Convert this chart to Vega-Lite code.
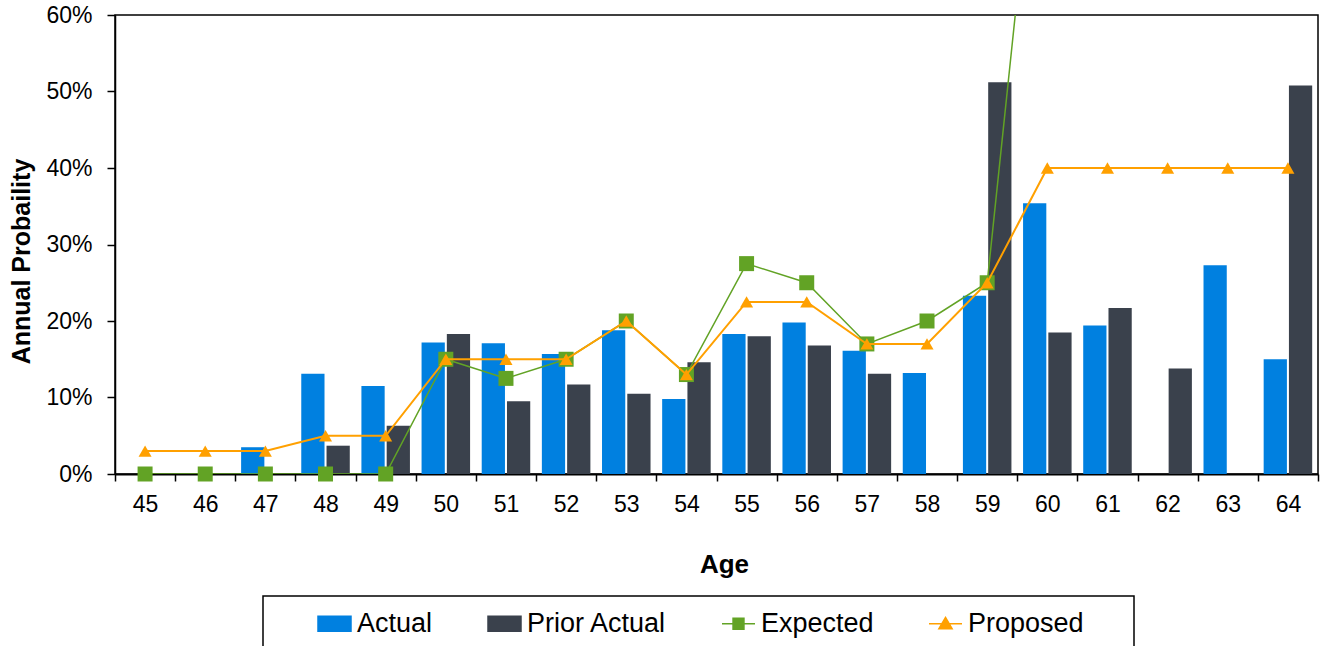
{
  "$schema": "https://vega.github.io/schema/vega-lite/v6.json",
  "width": 1203,
  "height": 459,
  "autosize": {"type": "none"},
  "padding": {"left": 115, "top": 15, "right": 5, "bottom": 172},
  "background": "white",
  "config": {
    "view": {"stroke": "black", "strokeWidth": 1.5},
    "font": "Liberation Sans"
  },
  "data": {
    "values": [
      {"age": 45, "series": "Actual", "value": 0},
      {"age": 46, "series": "Actual", "value": 0},
      {"age": 47, "series": "Actual", "value": 0.035},
      {"age": 48, "series": "Actual", "value": 0.131},
      {"age": 49, "series": "Actual", "value": 0.115},
      {"age": 50, "series": "Actual", "value": 0.172},
      {"age": 51, "series": "Actual", "value": 0.171},
      {"age": 52, "series": "Actual", "value": 0.157},
      {"age": 53, "series": "Actual", "value": 0.188},
      {"age": 54, "series": "Actual", "value": 0.098},
      {"age": 55, "series": "Actual", "value": 0.183},
      {"age": 56, "series": "Actual", "value": 0.198},
      {"age": 57, "series": "Actual", "value": 0.161},
      {"age": 58, "series": "Actual", "value": 0.132},
      {"age": 59, "series": "Actual", "value": 0.233},
      {"age": 60, "series": "Actual", "value": 0.354},
      {"age": 61, "series": "Actual", "value": 0.194},
      {"age": 62, "series": "Actual", "value": 0},
      {"age": 63, "series": "Actual", "value": 0.273},
      {"age": 64, "series": "Actual", "value": 0.150},
      {"age": 45, "series": "Prior Actual", "value": 0},
      {"age": 46, "series": "Prior Actual", "value": 0},
      {"age": 47, "series": "Prior Actual", "value": 0},
      {"age": 48, "series": "Prior Actual", "value": 0.037},
      {"age": 49, "series": "Prior Actual", "value": 0.063},
      {"age": 50, "series": "Prior Actual", "value": 0.183},
      {"age": 51, "series": "Prior Actual", "value": 0.095},
      {"age": 52, "series": "Prior Actual", "value": 0.117},
      {"age": 53, "series": "Prior Actual", "value": 0.105},
      {"age": 54, "series": "Prior Actual", "value": 0.146},
      {"age": 55, "series": "Prior Actual", "value": 0.180},
      {"age": 56, "series": "Prior Actual", "value": 0.168},
      {"age": 57, "series": "Prior Actual", "value": 0.131},
      {"age": 58, "series": "Prior Actual", "value": 0},
      {"age": 59, "series": "Prior Actual", "value": 0.512},
      {"age": 60, "series": "Prior Actual", "value": 0.185},
      {"age": 61, "series": "Prior Actual", "value": 0.217},
      {"age": 62, "series": "Prior Actual", "value": 0.138},
      {"age": 63, "series": "Prior Actual", "value": 0},
      {"age": 64, "series": "Prior Actual", "value": 0.508},
      {"age": 45, "series": "Expected", "value": 0},
      {"age": 46, "series": "Expected", "value": 0},
      {"age": 47, "series": "Expected", "value": 0},
      {"age": 48, "series": "Expected", "value": 0},
      {"age": 49, "series": "Expected", "value": 0},
      {"age": 50, "series": "Expected", "value": 0.15},
      {"age": 51, "series": "Expected", "value": 0.125},
      {"age": 52, "series": "Expected", "value": 0.15},
      {"age": 53, "series": "Expected", "value": 0.20},
      {"age": 54, "series": "Expected", "value": 0.13},
      {"age": 55, "series": "Expected", "value": 0.275},
      {"age": 56, "series": "Expected", "value": 0.25},
      {"age": 57, "series": "Expected", "value": 0.17},
      {"age": 58, "series": "Expected", "value": 0.20},
      {"age": 59, "series": "Expected", "value": 0.25},
      {"age": 60, "series": "Expected", "value": 1.0},
      {"age": 45, "series": "Proposed", "value": 0.03},
      {"age": 46, "series": "Proposed", "value": 0.03},
      {"age": 47, "series": "Proposed", "value": 0.03},
      {"age": 48, "series": "Proposed", "value": 0.05},
      {"age": 49, "series": "Proposed", "value": 0.05},
      {"age": 50, "series": "Proposed", "value": 0.15},
      {"age": 51, "series": "Proposed", "value": 0.15},
      {"age": 52, "series": "Proposed", "value": 0.15},
      {"age": 53, "series": "Proposed", "value": 0.20},
      {"age": 54, "series": "Proposed", "value": 0.13},
      {"age": 55, "series": "Proposed", "value": 0.225},
      {"age": 56, "series": "Proposed", "value": 0.225},
      {"age": 57, "series": "Proposed", "value": 0.17},
      {"age": 58, "series": "Proposed", "value": 0.17},
      {"age": 59, "series": "Proposed", "value": 0.25},
      {"age": 60, "series": "Proposed", "value": 0.40},
      {"age": 61, "series": "Proposed", "value": 0.40},
      {"age": 62, "series": "Proposed", "value": 0.40},
      {"age": 63, "series": "Proposed", "value": 0.40},
      {"age": 64, "series": "Proposed", "value": 0.40}
    ]
  },
  "encoding": {
    "x": {
      "field": "age",
      "type": "ordinal",
      "scale": {"paddingInner": 0, "paddingOuter": 0},
      "axis": {
        "title": "Age",
        "labelAngle": 0,
        "tickBand": "extent",
        "labelFontSize": 23,
        "labelColor": "black",
        "labelPadding": 12,
        "tickSize": 7,
        "tickColor": "black",
        "tickWidth": 1.5,
        "domainColor": "black",
        "domainWidth": 2,
        "titleFontSize": 26,
        "titleFontWeight": "bold",
        "titleColor": "black",
        "titlePadding": 35,
        "titleX": 609
      }
    },
    "y": {
      "field": "value",
      "type": "quantitative",
      "scale": {"domain": [0, 0.6], "nice": false},
      "axis": {
        "title": "Annual  Probaility",
        "format": ".0%",
        "values": [0, 0.1, 0.2, 0.3, 0.4, 0.5, 0.6],
        "grid": false,
        "labelFontSize": 23,
        "labelColor": "black",
        "labelPadding": 15,
        "tickSize": 8,
        "tickColor": "black",
        "tickWidth": 1.5,
        "domainColor": "black",
        "domainWidth": 1.5,
        "titleFontSize": 25,
        "titleFontWeight": "bold",
        "titleColor": "black",
        "titlePadding": 11,
        "titleY": 246
      }
    },
    "color": {
      "field": "series",
      "type": "nominal",
      "scale": {
        "domain": ["Actual", "Prior Actual", "Expected", "Proposed"],
        "range": ["#0080E0", "#3A414C", "#62A325", "#FFA000"]
      },
      "legend": {
        "title": "\u00a0",
        "titleOrient": "left",
        "titleFontSize": 26,
        "titlePadding": 44,
        "orient": "none",
        "legendX": 148,
        "legendY": 581,
        "direction": "horizontal",
        "strokeColor": "black",
        "padding": 10,
        "labelFontSize": 27,
        "labelFont": "Liberation Sans",
        "labelColor": "black",
        "labelOffset": 5,
        "labelLimit": 400,
        "columnPadding": 52,
        "symbolSize": 1089,
        "labelExpr": "datum.label === 'Proposed' ? 'Proposed\u2800\u2800' : datum.label",
        "encode": {
          "legend": {"update": {"strokeWidth": {"value": 1.5}}},
          "symbols": {
            "update": {
              "shape": {"signal": "datum.value === 'Expected' ? 'M-1,0H1M-0.33,-0.33H0.33V0.33H-0.33Z' : datum.value === 'Proposed' ? 'M-1,0H1M0,-0.38L0.4,0.3L-0.4,0.3Z' : 'M-1,-0.4545H1V0.4545H-1Z'"},
              "fill": {"scale": "color", "field": "value"},
              "stroke": {"scale": "color", "field": "value"},
              "strokeWidth": {"value": 1.5},
              "size": {"value": 1089},
              "opacity": {"value": 1}
            }
          }
        }
      }
    }
  },
  "layer": [
    {
      "transform": [{"filter": "datum.series === 'Actual' || datum.series === 'Prior Actual'"}],
      "mark": {"type": "bar"},
      "encoding": {
        "xOffset": {
          "field": "series",
          "type": "nominal",
          "sort": ["Actual", "Prior Actual"],
          "scale": {"paddingInner": 0.08, "paddingOuter": 0.23}
        }
      }
    },
    {
      "transform": [{"filter": "datum.series === 'Expected'"}],
      "mark": {"type": "line", "strokeWidth": 1.5, "clip": true}
    },
    {
      "transform": [{"filter": "datum.series === 'Expected' && datum.value <= 0.6"}],
      "mark": {"type": "point", "shape": "square", "size": 225, "filled": true, "opacity": 1}
    },
    {
      "transform": [{"filter": "datum.series === 'Proposed'"}],
      "mark": {"type": "line", "strokeWidth": 2, "clip": true}
    },
    {
      "transform": [{"filter": "datum.series === 'Proposed'"}],
      "mark": {"type": "point", "shape": "triangle-up", "size": 170, "filled": true, "opacity": 1}
    }
  ]
}
